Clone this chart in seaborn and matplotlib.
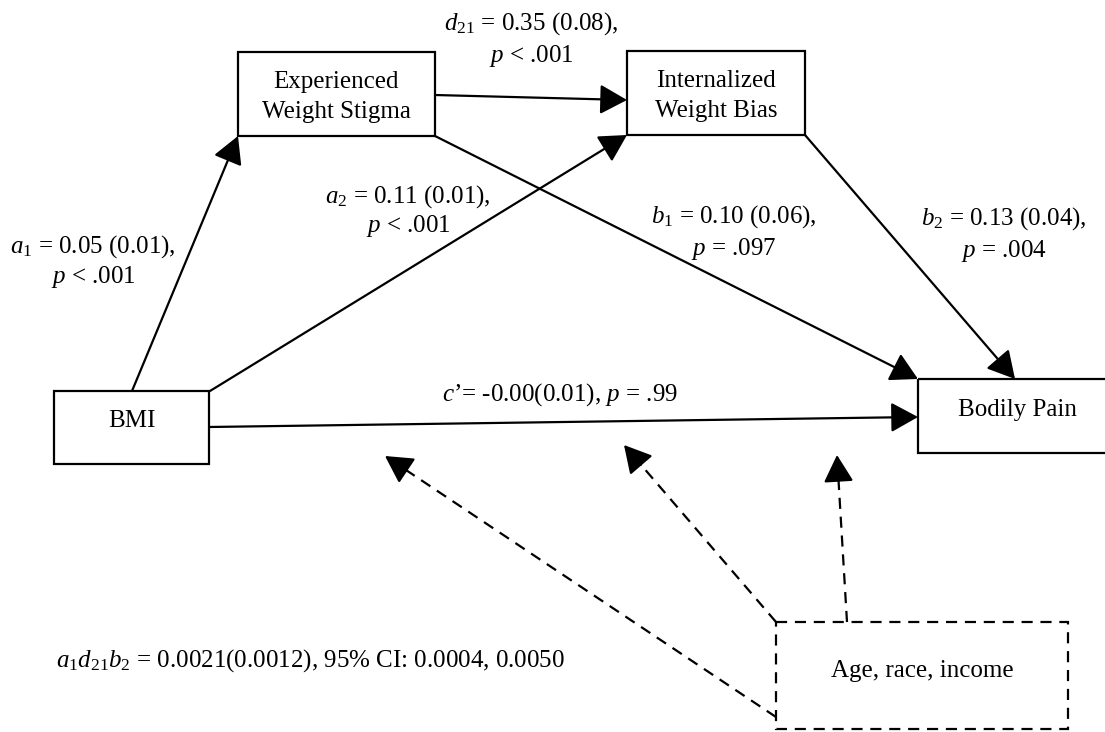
import numpy as np
import pandas as pd
import matplotlib
matplotlib.use('Agg')
import matplotlib.pyplot as plt
from matplotlib.patches import Rectangle
import seaborn as sns

# ---- data: path coefficients of the serial mediation model ----
node_names = ['BMI', 'Experienced\nWeight Stigma', 'Internalized\nWeight Bias', 'Bodily Pain', 'Age, race, income']
path_symbols = [r'$a_1$', r'$a_{\mathit{2}}$', r'$d_{\mathit{21}}$', r'$b_{\mathit{1}}$', r'$b_2$']
path_est = [0.05, 0.11, 0.35, 0.10, 0.13]
path_se = [0.01, 0.01, 0.08, 0.06, 0.04]
path_p = ['< .001', '< .001', '< .001', '= .097', '= .004']
c_est = -0.00
c_se = 0.01
c_p = '= .99'
ind_est = 0.0021
ind_se = 0.0012
ind_ci = [0.0004, 0.0050]

# ---- layout (pixel coordinates, y downwards) ----
boxes = {
    'BMI': (54, 391, 209, 464),
    'EWS': (238, 52, 435, 136),
    'IWB': (627, 51, 805, 135),
    'PAIN': (918, 379, 1115, 453),
    'COV': (776, 622, 1068, 729),
}
# start / tip of each solid path, same order as path_symbols, then c'
arrows = [((132, 391), (238, 136)),
          ((210, 391), (627, 135)),
          ((435, 95), (627, 100)),
          ((435, 136), (918, 379)),
          ((805, 135), (1015, 379)),
          ((209, 427), (918, 417))]
dashed = [((776, 717), (385, 456)),
          ((776, 622), (624, 445)),
          ((847, 622), (837, 455))]
# label centre x and baselines of the two lines
label_pos = [(93, 253, 283), (408, 203, 232), (531, 30, 62), (734, 223, 255), (1004, 225, 257)]

sns.set_theme(style='white')
plt.rcParams['font.family'] = ['Liberation Serif', 'DejaVu Serif']
plt.rcParams['text.color'] = 'black'
plt.rcParams['mathtext.fontset'] = 'custom'
plt.rcParams['mathtext.rm'] = 'Liberation Serif'
plt.rcParams['mathtext.it'] = 'Liberation Serif:italic'

fs = 18
lw = 1.6

fig = plt.figure(figsize=(11.05, 7.32), dpi=100)
ax = fig.add_axes([0, 0, 1, 1])
ax.set_xlim(0, 1105)
ax.set_ylim(732, 0)
ax.axis('off')

# boxes
for key, (x0, y0, x1, y1) in boxes.items():
    ls = (0, (5, 3.5)) if key == 'COV' else '-'
    ax.add_patch(Rectangle((x0, y0), x1 - x0, y1 - y0, fill=False,
                           edgecolor='black', lw=lw, linestyle=ls))

ax.text(132, 427, node_names[0], ha='center', va='baseline', fontsize=fs)
ax.text(336, 88, 'Experienced', ha='center', va='baseline', fontsize=fs)
ax.text(336, 118, 'Weight Stigma', ha='center', va='baseline', fontsize=fs)
ax.text(716, 87, 'Internalized', ha='center', va='baseline', fontsize=fs)
ax.text(716, 117, 'Weight Bias', ha='center', va='baseline', fontsize=fs)
ax.text(1017, 416, node_names[3], ha='center', va='baseline', fontsize=fs)
ax.text(922, 677, node_names[4], ha='center', va='baseline', fontsize=fs)

head = '-|>,head_length=0.6,head_width=0.33'
ms = 28

# solid paths
for (start, tip) in arrows:
    ax.annotate('', xy=tip, xytext=start,
                arrowprops=dict(arrowstyle=head, color='black', lw=lw,
                                mutation_scale=ms, shrinkA=0, shrinkB=0))

# dashed covariate paths: dashed shaft + solid head
for (start, tip) in dashed:
    sx, sy = start
    tx, ty = tip
    d = np.hypot(tx - sx, ty - sy)
    ux, uy = (tx - sx) / d, (ty - sy) / d
    base = (tx - ux * 20, ty - uy * 20)
    ax.plot([sx, base[0]], [sy, base[1]], color='black', lw=lw,
            linestyle=(0, (5, 3.5)))
    ax.annotate('', xy=tip, xytext=(tx - ux * 26, ty - uy * 26),
                arrowprops=dict(arrowstyle=head, color='black', lw=lw,
                                mutation_scale=ms, shrinkA=0, shrinkB=0))

# path labels
for sym, est, se, p, (cx, y1, y2) in zip(path_symbols, path_est, path_se, path_p, label_pos):
    ax.text(cx, y1, f'{sym} = {est:.2f} ({se:.2f}),', ha='center', va='baseline', fontsize=fs)
    ax.text(cx, y2, f'$p$ {p}', ha='center', va='baseline', fontsize=fs)

ax.text(560, 401, f'$c$\u2019= {c_est:.2f}({c_se:.2f}), $p$ {c_p}',
        ha='center', va='baseline', fontsize=fs)

ax.text(56, 667, r'$a_{\mathit{1}}d_{\mathit{21}}b_{\mathit{2}}$' +
        f' = {ind_est:.4f}({ind_se:.4f}), 95% CI: {ind_ci[0]:.4f}, {ind_ci[1]:.4f}',
        ha='left', va='baseline', fontsize=fs)

fig.savefig('out.png', dpi=100, facecolor='white')
